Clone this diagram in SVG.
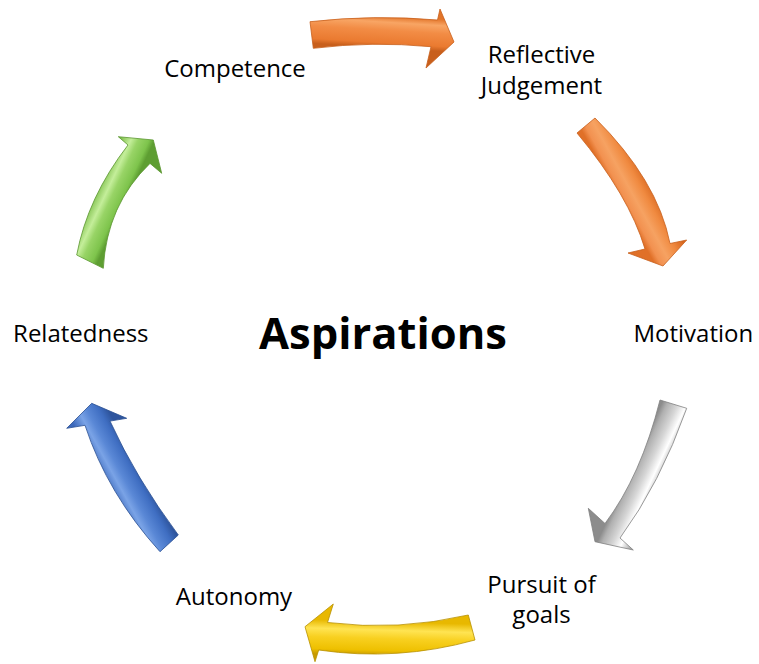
<svg xmlns="http://www.w3.org/2000/svg" width="759" height="664" viewBox="0 0 759 664">
  <style>
    .lbl { font-family: "Open Sans", "Liberation Sans", sans-serif; font-size: 24px; fill: #000; text-anchor: middle; }
    .title { font-family: "Open Sans", "Liberation Sans", sans-serif; font-size: 43.5px; font-weight: bold; fill: #000; text-anchor: middle; }
    .arrow { stroke-width: 0.8; stroke-linejoin: round; }
  </style>
  <defs>
    <linearGradient id="gOrangeTop" gradientUnits="userSpaceOnUse" x1="374" y1="15" x2="372" y2="47">
      <stop offset="0" stop-color="#e27429"/>
      <stop offset="0.2" stop-color="#f8a564"/>
      <stop offset="0.45" stop-color="#f28c45"/>
      <stop offset="0.85" stop-color="#ea7a30"/>
      <stop offset="1" stop-color="#c85f1c"/>
    </linearGradient>
    <linearGradient id="gOrangeRight" gradientUnits="userSpaceOnUse" x1="648" y1="178" x2="617" y2="195">
      <stop offset="0" stop-color="#d8671f"/>
      <stop offset="0.3" stop-color="#f08a40"/>
      <stop offset="0.6" stop-color="#f6a262"/>
      <stop offset="0.85" stop-color="#f29150"/>
      <stop offset="1" stop-color="#e07028"/>
    </linearGradient>
    <linearGradient id="gGray" gradientUnits="userSpaceOnUse" x1="662" y1="481" x2="632" y2="467">
      <stop offset="0" stop-color="#a8a8a8"/>
      <stop offset="0.3" stop-color="#ffffff"/>
      <stop offset="0.55" stop-color="#d6d6d6"/>
      <stop offset="0.85" stop-color="#b0b0b0"/>
      <stop offset="1" stop-color="#8c8c8c"/>
    </linearGradient>
    <linearGradient id="gYellow" gradientUnits="userSpaceOnUse" x1="398" y1="622" x2="397" y2="656">
      <stop offset="0" stop-color="#e8b800"/>
      <stop offset="0.25" stop-color="#ffe452"/>
      <stop offset="0.5" stop-color="#f8d020"/>
      <stop offset="0.85" stop-color="#eec000"/>
      <stop offset="1" stop-color="#c89a00"/>
    </linearGradient>
    <linearGradient id="gBlue" gradientUnits="userSpaceOnUse" x1="111" y1="494" x2="144" y2="476">
      <stop offset="0" stop-color="#3b68bb"/>
      <stop offset="0.3" stop-color="#7aa3e6"/>
      <stop offset="0.5" stop-color="#5a88d6"/>
      <stop offset="0.8" stop-color="#3f6ec2"/>
      <stop offset="1" stop-color="#2e559e"/>
    </linearGradient>
    <linearGradient id="gGreen" gradientUnits="userSpaceOnUse" x1="91" y1="198" x2="121" y2="212">
      <stop offset="0" stop-color="#73b840"/>
      <stop offset="0.35" stop-color="#c4ee9a"/>
      <stop offset="0.55" stop-color="#98d466"/>
      <stop offset="0.85" stop-color="#7ec44c"/>
      <stop offset="1" stop-color="#5e9e32"/>
    </linearGradient>
  </defs>

  <!-- curved cycle arrows, running clockwise -->
  <g id="connectors">
    <path id="arrow-competence-reflective" class="arrow" fill="url(#gOrangeTop)" stroke="#c85f1c"
          d="M310,21.7 Q374,14.5 437.5,20 L440,9 L454,42 L426,68 L431,46.7 Q372,41.1 313.3,48.3 Z"/>
    <path id="arrow-reflective-motivation" class="arrow" fill="url(#gOrangeRight)" stroke="#c85f1c"
          d="M595,118 Q657.5,180 670,243.5 L686.7,240 L663,266 L628,253 L645,249 Q629,195.5 577,133 Z"/>
    <path id="arrow-motivation-pursuit" class="arrow" fill="url(#gGray)" stroke="#808080"
          d="M686.7,408.3 Q660,483.6 620,538 L633.3,550 L595,541.7 L588.3,508.3 L605,523.5 Q641,475.6 660,400 Z"/>
    <path id="arrow-pursuit-autonomy" class="arrow" fill="url(#gYellow)" stroke="#b89000"
          d="M468.3,615 Q398.1,631.3 327.5,622.5 L333.3,604 L305,626.7 L315,661.7 L318.7,650 Q397.2,661.6 475,640 Z"/>
    <path id="arrow-autonomy-relatedness" class="arrow" fill="url(#gBlue)" stroke="#2a4f92"
          d="M160,551.7 Q107.5,493.9 85,425.3 L66.7,428.3 L91.7,403.3 L126.7,418.3 L110,421.1 Q136,478.1 178.3,535 Z"/>
    <path id="arrow-relatedness-competence" class="arrow" fill="url(#gGreen)" stroke="#5a9630"
          d="M76.7,255 Q87.5,197.5 128,145 L118.3,136.7 L153.3,140 L161.7,173.3 L150,163.4 Q106.7,205 103.3,268.3 Z"/>
  </g>

  <g id="center">
    <text class="title" x="383" y="349">Aspirations</text>
  </g>
  <g id="node-competence">
    <text class="lbl" x="235" y="77">Competence</text>
  </g>
  <g id="node-reflective-judgement">
    <text class="lbl" x="541.5" y="63.3">Reflective</text>
    <text class="lbl" x="541.5" y="93.5">Judgement</text>
  </g>
  <g id="node-motivation">
    <text class="lbl" x="693.3" y="341.7">Motivation</text>
  </g>
  <g id="node-pursuit-of-goals">
    <text class="lbl" x="541.5" y="593.3">Pursuit of</text>
    <text class="lbl" x="541.5" y="623.3">goals</text>
  </g>
  <g id="node-autonomy">
    <text class="lbl" x="234" y="605">Autonomy</text>
  </g>
  <g id="node-relatedness">
    <text class="lbl" x="80.8" y="341.7">Relatedness</text>
  </g>
</svg>
